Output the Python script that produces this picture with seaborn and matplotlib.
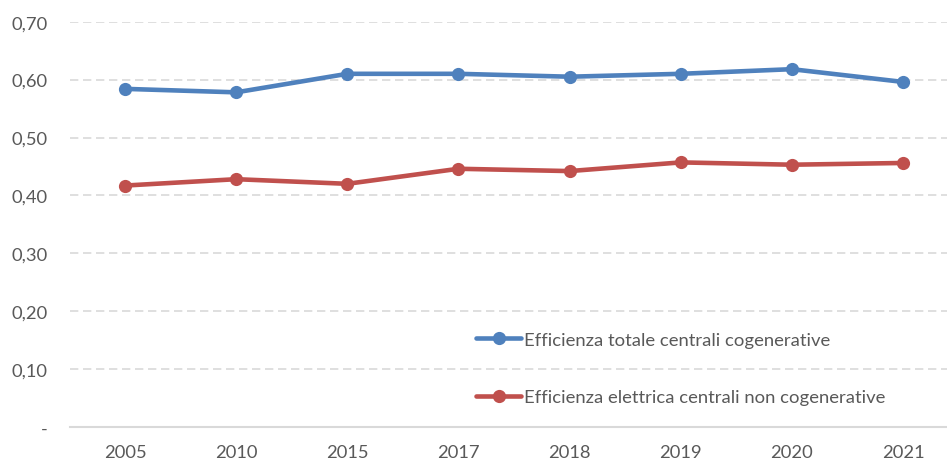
import matplotlib
matplotlib.use("Agg")
import matplotlib.pyplot as plt
import seaborn as sns
import pandas as pd

years = ["2005", "2010", "2015", "2017", "2018", "2019", "2020", "2021"]
eff_totale_cogen = [0.584, 0.578, 0.610, 0.610, 0.605, 0.610, 0.618, 0.596]
eff_elettrica_non_cogen = [0.417, 0.428, 0.420, 0.446, 0.442, 0.457, 0.453, 0.456]
series_names = ["Efficienza totale centrali cogenerative",
                "Efficienza elettrica centrali non cogenerative"]
y_ticks = [0.0, 0.1, 0.2, 0.3, 0.4, 0.5, 0.6, 0.7]
y_tick_labels = ["-", "0,10", "0,20", "0,30", "0,40", "0,50", "0,60", "0,70"]

df = pd.DataFrame({
    "anno": years * 2,
    "valore": eff_totale_cogen + eff_elettrica_non_cogen,
    "serie": [series_names[0]] * len(years) + [series_names[1]] * len(years),
})

sns.set_theme(style="white")
plt.rcParams["font.family"] = ["Lato", "DejaVu Sans"]
text_color = "#595959"
grid_color = "#D9D9D9"

fig = plt.figure(figsize=(9.47, 4.64), dpi=100)
ax = fig.add_axes([69.5 / 947, 36 / 464, 889 / 947, 405.3 / 464])

palette = {series_names[0]: "#4F81BD", series_names[1]: "#C0504D"}
sns.lineplot(data=df, x="anno", y="valore", hue="serie", palette=palette,
             marker="o", markersize=9.5, markeredgewidth=0, linewidth=3.3,
             sort=False, ax=ax, zorder=3)

ax.set_xlim(-0.5, len(years) - 0.5)
ax.set_ylim(0, 0.7)
ax.set_yticks(y_ticks)
ax.set_yticklabels(y_tick_labels)
ax.set_xlabel("")
ax.set_ylabel("")

for y in y_ticks[1:]:
    ax.axhline(y, color=grid_color, linewidth=1.2, linestyle=(0, (5, 2.8)), zorder=1)

for side in ["top", "right", "left"]:
    ax.spines[side].set_visible(False)
ax.spines["bottom"].set_color(grid_color)
ax.spines["bottom"].set_linewidth(1.5)

ax.tick_params(axis="both", length=0, labelsize=13.2, labelcolor=text_color)
ax.tick_params(axis="y", pad=16)
ax.tick_params(axis="x", pad=12)

leg = ax.legend(loc="upper left", bbox_to_anchor=(0.447, 0.258), frameon=False,
                fontsize=13.3, labelcolor=text_color, handlelength=2.45,
                handletextpad=0.12, labelspacing=2.25, borderpad=0)

fig.savefig("out.png", dpi=100)
